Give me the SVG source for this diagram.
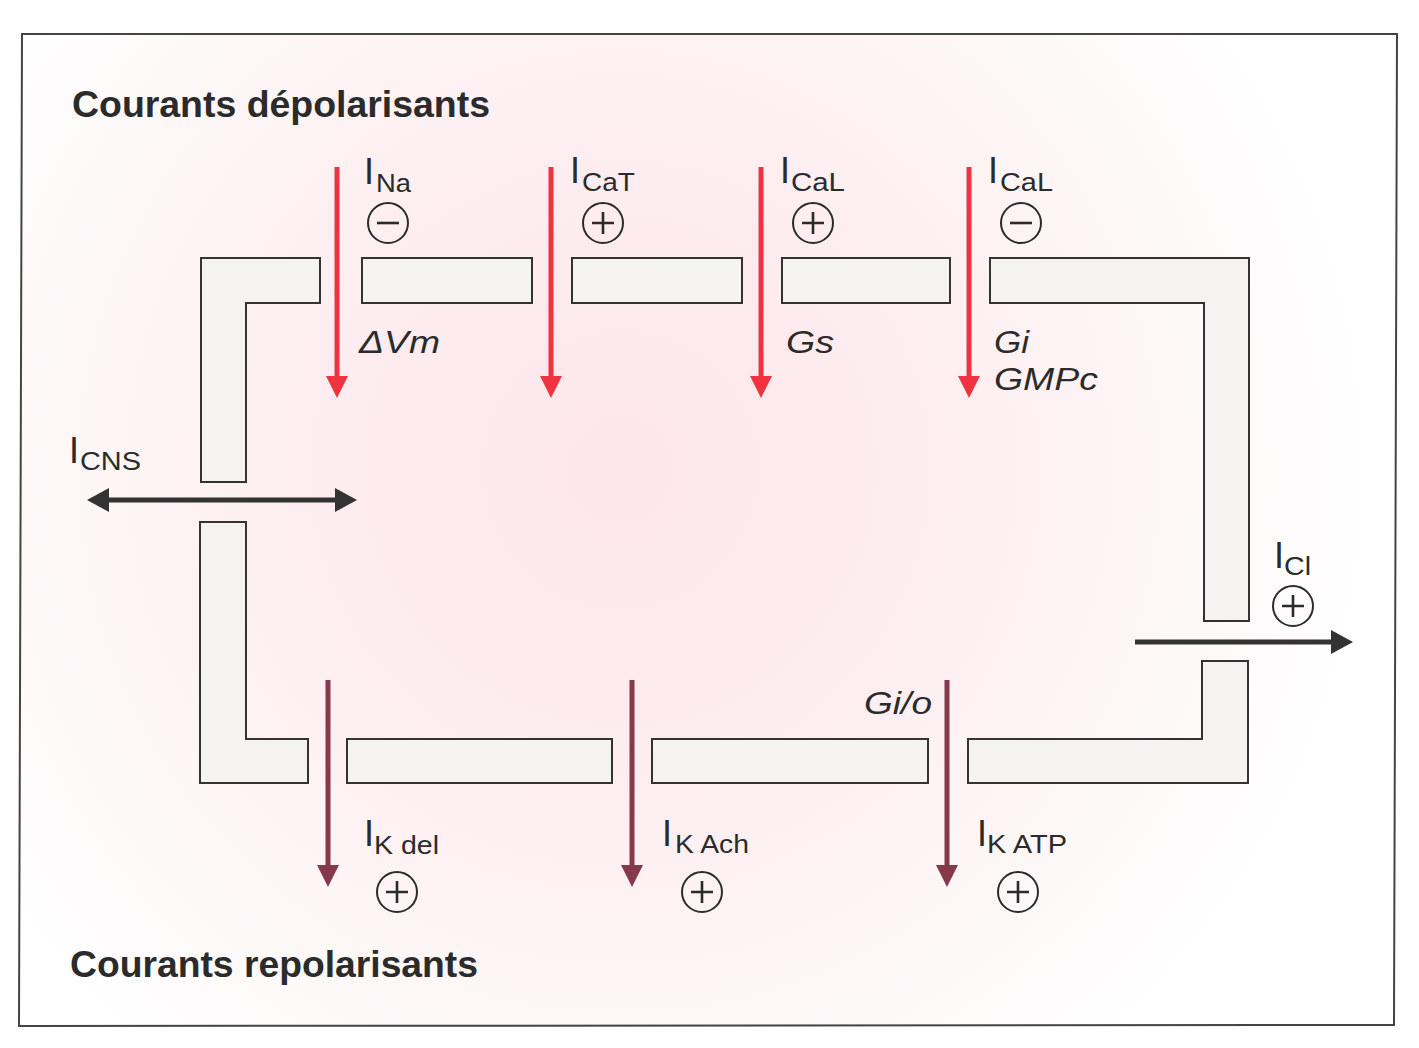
<svg xmlns="http://www.w3.org/2000/svg" width="1419" height="1048" viewBox="0 0 1419 1048">
<style>
text{font-family:"Liberation Sans",Arial,Helvetica,sans-serif;fill:#2b2b2b}
.title{font-size:36px;font-weight:bold}
.big{font-size:36px}
.sub{font-size:26px}
.it{font-size:32px;font-style:italic}
.mem{fill:#f5f2f2;stroke:#333;stroke-width:2}
.sign circle{fill:none;stroke:#2b2b2b;stroke-width:2}
.sign path{stroke:#2b2b2b;stroke-width:2.6;fill:none}
.red{stroke:#ef3340;stroke-width:5;fill:none}
.dep{stroke:#86394a;stroke-width:5;fill:none}
.blk{stroke:#333;stroke-width:5;fill:none}
</style>
<defs>
<radialGradient id="bg" cx="620" cy="470" r="760" gradientUnits="userSpaceOnUse">
<stop offset="0" stop-color="#fde6ea"/>
<stop offset="0.45" stop-color="#fdeef1"/>
<stop offset="0.8" stop-color="#fdf9f9"/>
<stop offset="1" stop-color="#ffffff"/>
</radialGradient>
<marker id="hRed" markerUnits="userSpaceOnUse" markerWidth="22" markerHeight="22" viewBox="0 -11 22 22" refX="0" refY="0" orient="auto"><path d="M0,-11 L22,0 L0,11 z" fill="#ef3340"/></marker>
<marker id="hDep" markerUnits="userSpaceOnUse" markerWidth="22" markerHeight="22" viewBox="0 -11 22 22" refX="0" refY="0" orient="auto"><path d="M0,-11 L22,0 L0,11 z" fill="#86394a"/></marker>
<marker id="hBlk" markerUnits="userSpaceOnUse" markerWidth="22" markerHeight="24" viewBox="0 -12 22 24" refX="0" refY="0" orient="auto-start-reverse"><path d="M0,-12 L22,0 L0,12 z" fill="#333"/></marker>
</defs>
<rect width="1419" height="1048" fill="#ffffff"/>
<polygon points="22,34 1397,34 1394,1025 19,1026" fill="url(#bg)" stroke="#444" stroke-width="2"/>

<g id="titles">
<text class="title" x="72" y="117" textLength="418" lengthAdjust="spacingAndGlyphs">Courants dépolarisants</text>
<text class="title" x="70" y="977" textLength="408" lengthAdjust="spacingAndGlyphs">Courants repolarisants</text>
</g>

<g id="membrane">
<polygon id="mem-tl" class="mem" points="201,258 320,258 320,303 246,303 246,482 201,482"/>
<rect id="mem-t1" class="mem" x="362" y="258" width="170" height="45"/>
<rect id="mem-t2" class="mem" x="572" y="258" width="170" height="45"/>
<rect id="mem-t3" class="mem" x="782" y="258" width="168" height="45"/>
<polygon id="mem-tr" class="mem" points="990,258 1249,258 1249,621 1204,621 1204,303 990,303"/>
<polygon id="mem-bl" class="mem" points="200,522 246,522 246,739 308,739 308,783 200,783"/>
<rect id="mem-b1" class="mem" x="347" y="739" width="265" height="44"/>
<rect id="mem-b2" class="mem" x="652" y="739" width="276" height="44"/>
<polygon id="mem-br" class="mem" points="968,739 1202,739 1202,661 1248,661 1248,783 968,783"/>
</g>

<g id="connectors">
<line class="red" x1="337" y1="167" x2="337" y2="376" marker-end="url(#hRed)"/>
<line class="red" x1="551" y1="167" x2="551" y2="376" marker-end="url(#hRed)"/>
<line class="red" x1="761" y1="167" x2="761" y2="376" marker-end="url(#hRed)"/>
<line class="red" x1="969" y1="167" x2="969" y2="376" marker-end="url(#hRed)"/>
<line class="dep" x1="328" y1="680" x2="328" y2="865" marker-end="url(#hDep)"/>
<line class="dep" x1="632" y1="680" x2="632" y2="865" marker-end="url(#hDep)"/>
<line class="dep" x1="947" y1="680" x2="947" y2="865" marker-end="url(#hDep)"/>
<line class="blk" x1="109" y1="500" x2="335" y2="500" marker-start="url(#hBlk)" marker-end="url(#hBlk)"/>
<line class="blk" x1="1135" y1="642" x2="1331" y2="642" marker-end="url(#hBlk)"/>
</g>

<g id="INa">
<text class="big" x="364" y="184">I</text><text class="sub" x="376" y="192" textLength="35" lengthAdjust="spacingAndGlyphs">Na</text>
<g class="sign"><circle cx="388" cy="223" r="20"/><path d="M377,223 H399"/></g>
<text class="it" x="359" y="353" textLength="81" lengthAdjust="spacingAndGlyphs">ΔVm</text>
</g>
<g id="ICaT">
<text class="big" x="570" y="183">I</text><text class="sub" x="582" y="191" textLength="53" lengthAdjust="spacingAndGlyphs">CaT</text>
<g class="sign"><circle cx="603" cy="223" r="20"/><path d="M592,223 H614 M603,212 V234"/></g>
</g>
<g id="ICaL-Gs">
<text class="big" x="780" y="183">I</text><text class="sub" x="791" y="191" textLength="54" lengthAdjust="spacingAndGlyphs">CaL</text>
<g class="sign"><circle cx="813" cy="223" r="20"/><path d="M802,223 H824 M813,212 V234"/></g>
<text class="it" x="786" y="353" textLength="48" lengthAdjust="spacingAndGlyphs">Gs</text>
</g>
<g id="ICaL-Gi">
<text class="big" x="988" y="183">I</text><text class="sub" x="1000" y="191" textLength="53" lengthAdjust="spacingAndGlyphs">CaL</text>
<g class="sign"><circle cx="1021" cy="223" r="20"/><path d="M1010,223 H1032"/></g>
<text class="it" x="994" y="353" textLength="35" lengthAdjust="spacingAndGlyphs">Gi</text>
<text class="it" x="994" y="390" textLength="104" lengthAdjust="spacingAndGlyphs">GMPc</text>
</g>
<g id="ICNS">
<text class="big" x="69" y="463">I</text><text class="sub" x="80" y="470" textLength="61" lengthAdjust="spacingAndGlyphs">CNS</text>
</g>
<g id="ICl">
<text class="big" x="1274" y="568">I</text><text class="sub" x="1284" y="575" textLength="27" lengthAdjust="spacingAndGlyphs">Cl</text>
<g class="sign"><circle cx="1293" cy="606" r="20"/><path d="M1282,606 H1304 M1293,595 V617"/></g>
</g>
<g id="IKdel">
<text class="big" x="364" y="846">I</text><text class="sub" x="374" y="854" textLength="65" lengthAdjust="spacingAndGlyphs">K del</text>
<g class="sign"><circle cx="397" cy="892" r="20"/><path d="M386,892 H408 M397,881 V903"/></g>
</g>
<g id="IKAch">
<text class="big" x="662" y="846">I</text><text class="sub" x="675" y="853" textLength="74" lengthAdjust="spacingAndGlyphs">K Ach</text>
<g class="sign"><circle cx="702" cy="892" r="20"/><path d="M691,892 H713 M702,881 V903"/></g>
</g>
<g id="IKATP">
<text class="it" x="864" y="714" textLength="68" lengthAdjust="spacingAndGlyphs">Gi/o</text>
<text class="big" x="977" y="846">I</text><text class="sub" x="987" y="853" textLength="80" lengthAdjust="spacingAndGlyphs">K ATP</text>
<g class="sign"><circle cx="1018" cy="892" r="20"/><path d="M1007,892 H1029 M1018,881 V903"/></g>
</g>
</svg>
